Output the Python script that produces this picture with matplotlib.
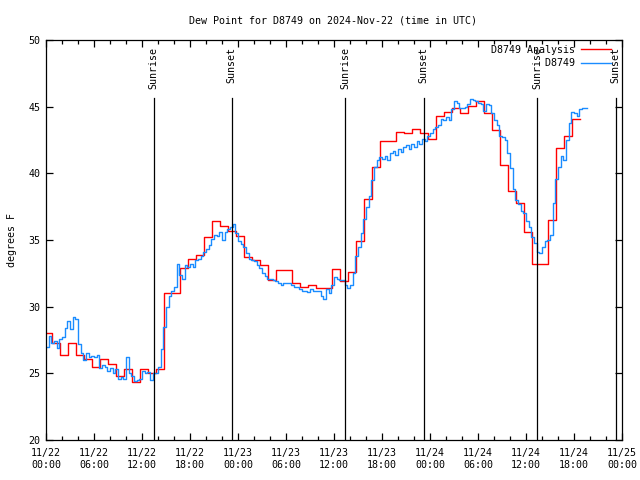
import numpy as np
import pandas as pd
import matplotlib
matplotlib.use('Agg')
import matplotlib.pyplot as plt
import matplotlib.dates as mdates
from matplotlib.ticker import MultipleLocator

# analysis values, hourly (valid from the 45th minute of the hour before)
analysis_start = '2024-11-21 23:45'
analysis_vals = [
    28.0, 27.3, 26.4, 27.25, 26.4, 26.05, 25.5, 26.05, 25.7, 24.8,
    25.3, 24.35, 25.3, 25.0, 25.3, 31.0, 31.0, 32.9, 33.6, 33.9,
    35.25, 36.45, 36.05, 35.7, 35.3, 33.7, 33.5, 33.1, 32.0, 32.75,
    32.75, 31.8, 31.5, 31.6, 31.4, 31.4, 32.8, 31.9, 32.6, 34.95,
    38.05, 40.5, 42.45, 42.45, 43.1, 43.0, 43.3, 43.05, 42.6, 44.3,
    44.6, 44.9, 44.55, 45.05, 45.4, 44.55, 43.25, 40.6, 38.7, 37.75,
    35.6, 33.2, 33.2, 36.5, 41.9, 42.8, 44.1, 44.1,
]

# station observations, every 20 minutes
obs_start = '2024-11-22 00:00'
obs_vals = [
    27.0, 27.8, 27.3, 27.4, 26.9, 27.6, 27.7, 28.4, 28.9, 28.3, 29.2, 29.1,
    27.2, 26.5, 26.0, 26.5, 26.2, 26.3, 26.2, 26.4, 25.4, 25.6, 25.5, 25.2,
    25.4, 25.0, 25.3, 24.6, 24.7, 24.6, 26.2, 25.0, 24.8, 24.4, 24.5, 24.6,
    25.2, 25.0, 25.1, 24.5, 25.0, 25.0, 25.5, 26.8, 28.5, 30.0, 30.8, 31.2,
    31.5, 33.2, 32.4, 32.1, 33.1, 33.0, 33.2, 33.0, 33.5, 33.6, 33.8, 34.1,
    34.3, 34.6, 35.1, 35.4, 35.3, 35.6, 35.0, 35.6, 35.8, 36.0, 36.2, 35.5,
    34.9, 34.7, 34.5, 34.0, 33.6, 33.5, 33.4, 33.1, 32.9, 32.5, 32.3, 32.1,
    32.1, 32.0, 31.9, 31.8, 31.6, 31.8, 31.8, 31.8, 31.6, 31.5, 31.5, 31.3,
    31.2, 31.2, 31.1, 31.3, 31.2, 31.2, 31.2, 30.8, 30.6, 31.3, 31.0, 31.6,
    32.2, 32.1, 32.0, 32.0, 31.6, 31.4, 31.6, 32.5, 33.8, 34.5, 35.5, 36.6,
    37.5, 38.3, 39.5, 40.5, 41.0, 41.2, 41.1, 41.3, 41.0, 41.5, 41.7, 41.4,
    41.8, 41.6, 42.0, 42.1, 41.8, 42.2, 42.0, 42.4, 42.2, 42.6, 42.4, 42.8,
    43.0, 43.3, 43.5, 43.6, 44.1, 44.0, 44.2, 44.0, 44.8, 45.4, 45.3, 44.9,
    44.9, 45.0, 45.2, 45.6, 45.5, 45.4, 45.3, 45.2, 44.7, 45.2, 45.1, 44.5,
    44.0, 43.6, 42.8, 42.7, 42.5, 41.5, 40.4, 38.8, 38.0, 37.7, 37.2, 37.0,
    36.4, 36.0, 35.2, 34.8, 34.1, 34.0, 34.5, 34.9, 35.0, 35.4, 37.8, 39.6,
    40.5, 41.3, 41.0, 42.5, 43.8, 44.6, 44.5, 44.3, 44.8, 44.9, 44.9, 44.9,
]

sunrise = ['2024-11-22 13:28', '2024-11-23 13:25', '2024-11-24 13:26']
sunset = ['2024-11-22 23:12', '2024-11-23 23:14', '2024-11-24 23:12']

t_analysis = pd.date_range(analysis_start, periods=len(analysis_vals), freq='1h')
t_obs = pd.date_range(obs_start, periods=len(obs_vals), freq='20min')

mono = 'DejaVu Sans Mono'
plt.rcParams['font.family'] = mono
plt.rcParams['font.size'] = 7.2

fig = plt.figure(figsize=(6.4, 4.8), dpi=100)
ax = fig.add_axes([46 / 640, 40 / 480, 576 / 640, 400 / 480])

ax.plot(t_analysis, analysis_vals, drawstyle='steps-post', color='#ff0000',
        lw=1.0, label='D8749 Analysis')
ax.plot(t_obs, obs_vals, drawstyle='steps-post', color='#1a8cff',
        lw=1.0, label='         D8749')

# day/night markers
for s in sunrise:
    ax.axvline(pd.Timestamp(s), ymin=0, ymax=0.855, color='black', lw=0.9)
    ax.text(pd.Timestamp(s), 49.45, 'Sunrise', rotation=90, ha='center',
            va='top', fontsize=7.2)
for s in sunset:
    ax.axvline(pd.Timestamp(s), ymin=0, ymax=0.855, color='black', lw=0.9)
    ax.text(pd.Timestamp(s), 49.45, 'Sunset', rotation=90, ha='center',
            va='top', fontsize=7.2)

ax.set_xlim(pd.Timestamp('2024-11-22 00:00'), pd.Timestamp('2024-11-25 00:00'))
ax.set_ylim(20, 50)
ax.xaxis.set_major_locator(mdates.HourLocator(byhour=[0, 6, 12, 18]))
ax.xaxis.set_minor_locator(mdates.HourLocator(interval=2))
ax.xaxis.set_major_formatter(mdates.DateFormatter('%m/%d\n%H:%M'))
ax.yaxis.set_major_locator(MultipleLocator(5))

ax.tick_params(which='both', direction='in', top=True, right=True, width=0.9)
ax.tick_params(which='major', length=5, pad=4)
ax.tick_params(which='minor', length=3)
ax.tick_params(axis='x', pad=6)
for sp in ax.spines.values():
    sp.set_linewidth(0.9)

fig.text(12 / 640, 0.5, 'degrees F', rotation=90, ha='center', va='center',
         fontsize=7.2)
fig.text(0.52, 0.958, 'Dew Point for D8749 on 2024-Nov-22 (time in UTC)',
         ha='center', va='center', fontsize=7.2)

ax.legend(loc='upper right', bbox_to_anchor=(0.99, 1.0), frameon=False,
          markerfirst=False, handlelength=3.0, borderaxespad=0.3,
          labelspacing=0.35, handletextpad=0.6, borderpad=0.2)

fig.savefig('out.png', dpi=100)
